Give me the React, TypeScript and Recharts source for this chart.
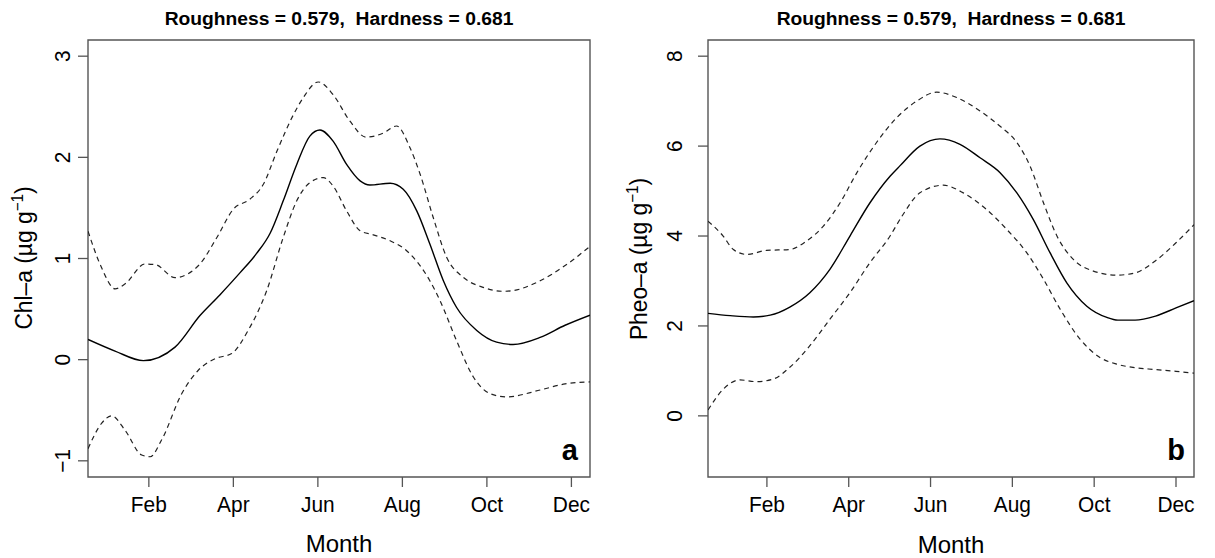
import React from 'react';
import { LineChart, Line, XAxis, YAxis, ReferenceArea } from 'recharts';

const FONT = '"Liberation Sans", Arial, Helvetica, sans-serif';

const monthTicks = [2, 4, 6, 8, 10, 12];
const monthLabels = ['Feb', 'Apr', 'Jun', 'Aug', 'Oct', 'Dec'];
const xDomain = [0.56, 12.44];

const titleText = 'Roughness = 0.579,  Hardness = 0.681';

// Panel a: Chl-a
const chlTicks = [-1, 0, 1, 2, 3];
const chlDomain = [-1.16, 3.16];
const chlFitMonths = [0.56, 1.2, 1.87, 2.62, 3.21, 3.68, 4.16, 4.55, 4.87, 5.18, 5.5, 5.81, 6.05, 6.36, 6.68, 7.0, 7.23, 7.71, 8.02, 8.34, 8.65, 8.97, 9.28, 9.76, 10.23, 10.62, 11.26, 11.85, 12.44];
const chlFitValues = [0.2, 0.085, -0.01, 0.124, 0.436, 0.64, 0.86, 1.05, 1.25, 1.57, 1.93, 2.21, 2.27, 2.16, 1.93, 1.767, 1.727, 1.744, 1.685, 1.471, 1.143, 0.78, 0.518, 0.289, 0.173, 0.15, 0.22, 0.34, 0.44];
const chlUpperMonths = [0.56, 0.88, 1.2, 1.44, 1.91, 2.15, 2.62, 2.93, 3.21, 3.61, 4.0, 4.39, 4.71, 5.03, 5.42, 5.65, 6.01, 6.36, 6.76, 7.14, 7.55, 7.86, 8.18, 8.42, 8.73, 9.05, 9.44, 9.91, 10.39, 10.62, 11.26, 11.85, 12.44];
const chlUpperValues = [1.27, 0.91, 0.7, 0.75, 0.946, 0.94, 0.81, 0.85, 0.946, 1.208, 1.488, 1.586, 1.734, 2.06, 2.42, 2.587, 2.745, 2.62, 2.357, 2.2, 2.24, 2.31, 2.095, 1.833, 1.405, 1.01, 0.814, 0.715, 0.676, 0.683, 0.78, 0.93, 1.12];
const chlLowerMonths = [0.56, 0.88, 1.12, 1.44, 1.83, 2.03, 2.3, 2.78, 3.17, 3.57, 3.96, 4.35, 4.79, 5.18, 5.5, 5.81, 6.13, 6.36, 6.68, 7.0, 7.31, 7.71, 8.1, 8.65, 8.89, 9.28, 9.68, 10.07, 10.47, 11.26, 11.85, 12.44];
const chlLowerValues = [-0.88, -0.63, -0.555, -0.7, -0.943, -0.96, -0.795, -0.335, -0.105, 0.01, 0.06, 0.289, 0.683, 1.208, 1.57, 1.75, 1.8, 1.717, 1.471, 1.274, 1.234, 1.175, 1.077, 0.78, 0.584, 0.19, -0.171, -0.335, -0.368, -0.3, -0.24, -0.22];

// Panel b: Pheo-a
const pheoTicks = [0, 2, 4, 6, 8];
const pheoDomain = [-1.36, 8.36];
const pheoFitMonths = [0.56, 1.1, 1.67, 2.08, 2.56, 3.05, 3.54, 4.03, 4.52, 5.01, 5.25, 5.74, 6.23, 6.72, 7.21, 7.7, 8.11, 8.51, 8.92, 9.33, 9.82, 10.31, 10.58, 11.0, 11.5, 12.0, 12.44];
const pheoFitValues = [2.28, 2.23, 2.2, 2.24, 2.42, 2.74, 3.26, 4.0, 4.74, 5.33, 5.56, 6.0, 6.16, 6.04, 5.74, 5.41, 4.96, 4.37, 3.63, 2.96, 2.44, 2.19, 2.13, 2.13, 2.22, 2.4, 2.56];
const pheoUpperMonths = [0.56, 0.93, 1.18, 1.51, 1.99, 2.56, 2.97, 3.38, 3.79, 4.2, 4.68, 5.17, 5.66, 6.15, 6.64, 7.21, 7.7, 8.11, 8.43, 8.76, 9.09, 9.49, 9.98, 10.55, 11.0, 11.5, 12.0, 12.44];
const pheoUpperValues = [4.33, 4.0, 3.7, 3.59, 3.68, 3.7, 3.89, 4.22, 4.74, 5.41, 6.08, 6.63, 7.0, 7.2, 7.08, 6.78, 6.44, 6.08, 5.56, 4.74, 4.0, 3.48, 3.22, 3.13, 3.18, 3.45, 3.85, 4.25];
const pheoLowerMonths = [0.56, 0.93, 1.34, 1.75, 2.16, 2.56, 3.05, 3.54, 4.03, 4.52, 5.01, 5.3, 5.74, 6.31, 6.8, 7.37, 7.86, 8.35, 8.76, 9.17, 9.66, 10.14, 10.55, 11.0, 11.5, 12.0, 12.44];
const pheoLowerValues = [0.13, 0.59, 0.8, 0.76, 0.82, 1.08, 1.56, 2.15, 2.74, 3.41, 4.0, 4.44, 4.96, 5.13, 4.96, 4.59, 4.15, 3.63, 3.04, 2.37, 1.7, 1.3, 1.15, 1.07, 1.03, 0.99, 0.95];

const toRows = (months: number[], values: number[]) => months.map((m, i) => ({ m, v: values[i] }));

const BOX = '#555';
const TICK_FONT = 22;
const SQUEEZE = 0.95;

const XTick = (props: any) => {
  const { x, y, payload } = props;
  const label = monthLabels[monthTicks.indexOf(payload.value)];
  return (
    <text transform={`translate(${x},${y + 25}) scale(${SQUEEZE},1)`} textAnchor="middle" fontSize={TICK_FONT} fill="#000" fontFamily={FONT}>
      {label}
    </text>
  );
};

const makeYTick = (gap: number) => (props: any) => {
  const { x, y, payload } = props;
  return (
    <text transform={`translate(${x - gap},${y}) rotate(-90) scale(${SQUEEZE},1)`} textAnchor="middle" fontSize={TICK_FONT} fill="#000" fontFamily={FONT}>
      {String(payload.value).replace('-', '\u2212')}
    </text>
  );
};

type PanelProps = {
  width: number;
  yAxisWidth: number;
  rightMargin: number;
  yTicks: number[];
  yDomain: number[];
  fit: { m: number; v: number }[];
  upper: { m: number; v: number }[];
  lower: { m: number; v: number }[];
  tickGap: number;
};

const Panel = ({ width, yAxisWidth, rightMargin, yTicks, yDomain, fit, upper, lower, tickGap }: PanelProps) => (
  <LineChart width={width} height={558} margin={{ top: 40, right: rightMargin, bottom: 21, left: 0 }}>
    <XAxis
      dataKey="m"
      type="number"
      domain={xDomain}
      ticks={monthTicks}
      allowDataOverflow
      axisLine={false}
      tickLine={{ stroke: BOX, strokeWidth: 1.3 }}
      tickSize={10}
      tickMargin={0}
      height={60}
      tick={<XTick />}
    />
    <YAxis
      type="number"
      domain={yDomain}
      ticks={yTicks}
      allowDataOverflow
      axisLine={false}
      tickLine={{ stroke: BOX, strokeWidth: 1.3 }}
      tickSize={10}
      tickMargin={0}
      width={yAxisWidth}
      tick={makeYTick(tickGap)}
    />
    <ReferenceArea x1={xDomain[0]} x2={xDomain[1]} y1={yDomain[0]} y2={yDomain[1]} stroke={BOX} strokeWidth={1.4} fill="none" fillOpacity={0} ifOverflow="visible" />
    <Line data={upper} dataKey="v" type="monotone" stroke="#222" strokeWidth={1.2} strokeDasharray="5 4" dot={false} isAnimationActive={false} />
    <Line data={lower} dataKey="v" type="monotone" stroke="#222" strokeWidth={1.2} strokeDasharray="5 4" dot={false} isAnimationActive={false} />
    <Line data={fit} dataKey="v" type="monotone" stroke="#000" strokeWidth={1.4} dot={false} isAnimationActive={false} />
  </LineChart>
);

const YLabel = ({ x, y, name }: { x: number; y: number; name: string }) => (
  <text transform={`translate(${x},${y}) rotate(-90) scale(${SQUEEZE},1)`} textAnchor="middle" fontSize={24} fill="#000">
    {name}{'\u2013'}a ({'\u00b5'}g g<tspan dy={-9} fontSize={16}>{'\u2212'}1</tspan><tspan dy={9}>)</tspan>
  </text>
);

const Overlay = () => (
  <svg width={1215} height={558} style={{ position: 'absolute', left: 0, top: 0, pointerEvents: 'none' }} fontFamily={FONT}>
    <text xmlSpace="preserve" style={{ whiteSpace: 'pre' }} transform={`translate(339,25) scale(1.07,1)`} textAnchor="middle" fontSize={18} fontWeight="bold" fill="#000">{titleText}</text>
    <text xmlSpace="preserve" style={{ whiteSpace: 'pre' }} transform={`translate(951,25) scale(1.07,1)`} textAnchor="middle" fontSize={18} fontWeight="bold" fill="#000">{titleText}</text>
    <text x={339} y={552} textAnchor="middle" fontSize={24} fill="#000">Month</text>
    <text x={951} y={553} textAnchor="middle" fontSize={24} fill="#000">Month</text>
    <YLabel x={32} y={258} name="Chl" />
    <YLabel x={647} y={259} name="Pheo" />
    <text x={578} y={460} textAnchor="end" fontSize={29} fontWeight="bold" fill="#000">a</text>
    <text x={1185} y={460} textAnchor="end" fontSize={29} fontWeight="bold" fill="#000">b</text>
  </svg>
);

export default function App() {
  return (
    <div style={{ position: 'absolute', left: 0, top: 0, width: 1215, height: 558, background: '#fff', overflow: 'hidden' }}>
      <div style={{ position: 'absolute', left: 0, top: 0 }}>
        <Panel
          width={600}
          yAxisWidth={88}
          rightMargin={10}
          yTicks={chlTicks}
          yDomain={chlDomain}
          fit={toRows(chlFitMonths, chlFitValues)}
          upper={toRows(chlUpperMonths, chlUpperValues)}
          lower={toRows(chlLowerMonths, chlLowerValues)}
          tickGap={8}
        />
      </div>
      <div style={{ position: 'absolute', left: 600, top: 0 }}>
        <Panel
          width={615}
          yAxisWidth={108}
          rightMargin={21}
          yTicks={pheoTicks}
          yDomain={pheoDomain}
          fit={toRows(pheoFitMonths, pheoFitValues)}
          upper={toRows(pheoUpperMonths, pheoUpperValues)}
          lower={toRows(pheoLowerMonths, pheoLowerValues)}
          tickGap={16}
        />
      </div>
      <Overlay />
    </div>
  );
}
